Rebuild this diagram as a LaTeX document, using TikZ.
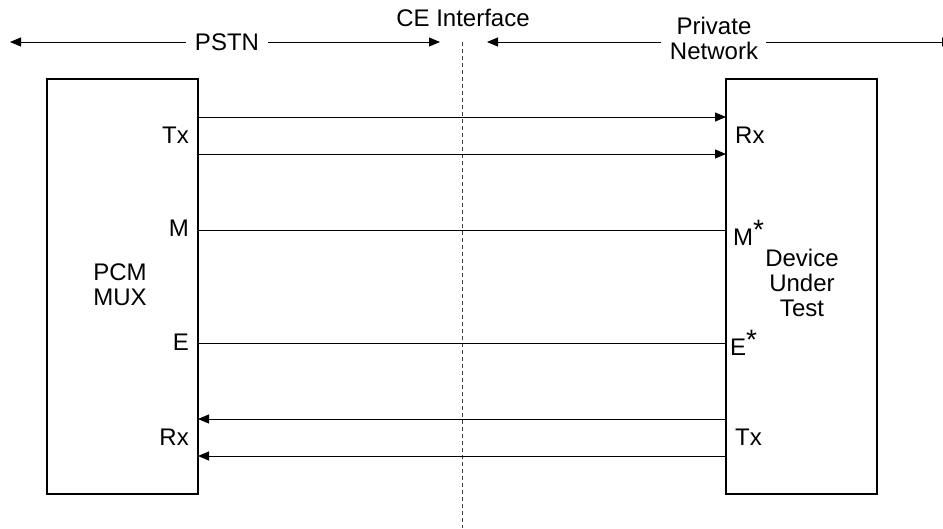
\documentclass[tikz,border=0pt]{standalone}
\usepackage{fontspec}
\setmainfont{Liberation Sans}
\usetikzlibrary{arrows.meta}
\begin{document}
\begin{tikzpicture}[x=1pt,y=-1pt,
  lbl/.style={font=\fontsize{24}{25}\selectfont, inner sep=0pt},
  blk/.style={draw, line width=1.8pt},
  sig/.style={line width=0.9pt},
  arr/.style={sig, -{Triangle[length=11pt,width=9pt]}},
  >={Triangle[length=11pt,width=9pt]}]
\useasboundingbox (0,0) rectangle (943,528);
\clip (0,0) rectangle (943,528);
% boxes
\draw[blk] (47,79) rectangle (198,494);
\draw[blk] (726,79) rectangle (877,494);
% interface line
\coordinate (ct) at (462,42);
\coordinate (cb) at (462,528);
\draw[gray!50!black, line width=0.9pt, dash pattern=on 4pt off 3pt] (ct) -- (cb);
% top labels
\node[lbl] (pstn) at (227,42) {PSTN};
\node[lbl] (ce) at (463,18) {CE Interface};
\node[lbl, align=center] (pn) at (714,38) {Private\\Network};
\coordinate (pl) at (10,42);
\coordinate (pr) at (440,42);
\coordinate (ql) at (487,42);
\coordinate (qr) at (953,42);
\draw[sig,->] (pstn.west) ++(-9,0) -- (pl);
\draw[sig,->] (pstn.east) ++(9,0) -- (pr);
\draw[sig,->] (pn.west) ++(-9,4) -- (ql);
\draw[sig,->] (pn.east) ++(8,4) -- (qr);
% signals
\coordinate (t1l) at (198,117); \coordinate (t1r) at (726,117);
\coordinate (t2l) at (198,154); \coordinate (t2r) at (726,154);
\coordinate (ml) at (198,230);  \coordinate (mr) at (726,230);
\coordinate (el) at (198,343);  \coordinate (er) at (726,343);
\coordinate (r1l) at (198,419); \coordinate (r1r) at (726,419);
\coordinate (r2l) at (198,456); \coordinate (r2r) at (726,456);
\draw[arr] (t1l) -- (t1r);
\draw[arr] (t2l) -- (t2r);
\draw[sig] (ml) -- (mr);
\draw[sig] (el) -- (er);
\draw[arr] (r1r) -- (r1l);
\draw[arr] (r2r) -- (r2l);
% left labels
\node[lbl, anchor=east] (ltx) at (189,135) {Tx};
\node[lbl, anchor=east] (lm) at (189,228) {M};
\node[lbl, align=center] (pcm) at (120,285) {PCM\\MUX};
\node[lbl, anchor=east] (le) at (189,342) {E};
\node[lbl, anchor=east] (lrx) at (189,437) {Rx};
% right labels
\node[lbl, anchor=west] (rrx) at (735,135) {Rx};
\node[lbl, anchor=west] (rm) at (733,233) {M\raisebox{6pt}{\fontsize{28}{28}\selectfont *}};
\node[lbl, align=center] (dut) at (802,283) {Device\\Under\\Test};
\node[lbl, anchor=west] (re) at (730,343) {E\raisebox{6pt}{\fontsize{28}{28}\selectfont *}};
\node[lbl, anchor=west] (rtx) at (735,437) {Tx};
\end{tikzpicture}
\end{document}
